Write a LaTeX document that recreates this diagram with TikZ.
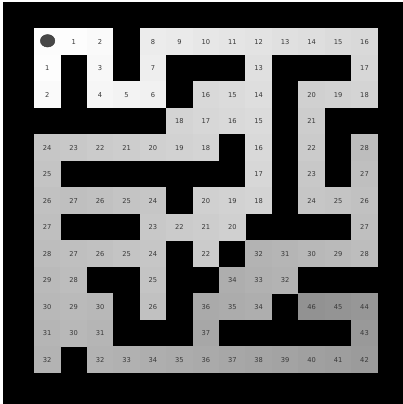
\documentclass[tikz,border=0pt]{standalone}
\usepackage{fontspec}
\setmainfont{DejaVu Sans}
\usetikzlibrary{shapes.geometric}
\tikzset{
  cellbox/.style={draw=none, minimum width=26.6pt, minimum height=26.7pt, inner sep=0pt, outer sep=0pt, text=black!78, font=\fontsize{6.7}{7}\selectfont, text height=4.9pt, text depth=0pt},
  startmark/.style={ellipse, fill=black!72, draw=black!80, line width=0.4pt, minimum width=14.5pt, minimum height=12.5pt, inner sep=0pt}
}
\begin{document}
\begin{tikzpicture}[x=1pt,y=-1pt]
\fill[white] (0,0) rectangle (403,404);
\fill[black] (3,2) rectangle (403,404);
\foreach \row [count=\r from 0] in {
 {0,1,2,-1,8,9,10,11,12,13,14,15,16},
 {1,-1,3,-1,7,-1,-1,-1,13,-1,-1,-1,17},
 {2,-1,4,5,6,-1,16,15,14,-1,20,19,18},
 {-1,-1,-1,-1,-1,18,17,16,15,-1,21,-1,-1},
 {24,23,22,21,20,19,18,-1,16,-1,22,-1,28},
 {25,-1,-1,-1,-1,-1,-1,-1,17,-1,23,-1,27},
 {26,27,26,25,24,-1,20,19,18,-1,24,25,26},
 {27,-1,-1,-1,23,22,21,20,-1,-1,-1,-1,27},
 {28,27,26,25,24,-1,22,-1,32,31,30,29,28},
 {29,28,-1,-1,25,-1,-1,34,33,32,-1,-1,-1},
 {30,29,30,-1,26,-1,36,35,34,-1,46,45,44},
 {31,30,31,-1,-1,-1,37,-1,-1,-1,-1,-1,43},
 {32,-1,32,33,34,35,36,37,38,39,40,41,42}} {
  \foreach \v [count=\c from 0] in \row {
    \ifnum\v<0 \else
      \pgfmathsetmacro\p{0.93*\v}
      \pgfmathsetmacro\cx{34+13.22+\c*26.44}
      \pgfmathsetmacro\cy{28.3+13.26+\r*26.52}
      \ifnum\v=0
        \node[cellbox, fill=black!1] (cell-\r-\c) at (\cx,\cy) {};
      \else
        \node[cellbox, fill=black!\p] (cell-\r-\c) at (\cx,\cy) {\v};
      \fi
    \fi
  }
}
\node[startmark] (start) at (47.6,40.8) {};
\end{tikzpicture}
\end{document}
